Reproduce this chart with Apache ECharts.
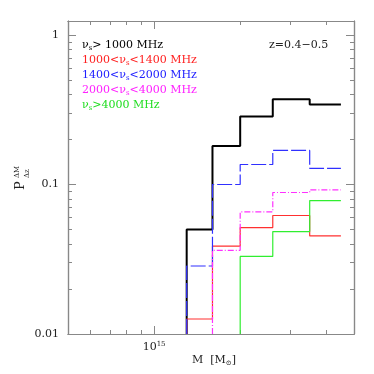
<!DOCTYPE html>
<html>
<head>
<meta charset="utf-8">
<script src="https://cdn.jsdelivr.net/npm/echarts@6/dist/echarts.min.js"></script>
<style>
  html, body { margin: 0; padding: 0; background: #fff; }
  #chart { width: 374px; height: 374px; }
</style>
</head>
<body>
<div id="chart"></div>
<script>
// bin edges in M [Msun]
var massEdges = [1.3e15, 1.6e15, 2.0e15, 2.6e15, 3.5e15, 4.5e15];
// P per bin, null = below the plot
var pAll    = [0.050, 0.181, 0.285, 0.371, 0.343];
var p1000   = [0.0126, 0.0387, 0.0515, 0.062, 0.0453];
var p1400   = [0.0285, 0.100, 0.136, 0.169, 0.128];
var p2000   = [null, 0.0363, 0.0656, 0.0884, 0.092];
var p4000   = [null, null, 0.033, 0.0484, 0.078];

var xMajor = [1e15];
var xMinor = [6e14, 7e14, 8e14, 9e14, 2e15, 3e15, 4e15];
var yMajor = [0.01, 0.1, 1];
var yMinor = [0.02, 0.03, 0.04, 0.05, 0.06, 0.07, 0.08, 0.09,
              0.2, 0.3, 0.4, 0.5, 0.6, 0.7, 0.8, 0.9];

var X_MIN = 5e14, X_MAX = 5e15, Y_MIN = 0.01, Y_MAX = 1.24;
var serif = 'DejaVu Serif';
var frame = '#888';

// histogram outline: rises from the bottom at the first filled bin
function steps(vals) {
  var pts = [];
  for (var i = 0; i < vals.length; i++) {
    if (vals[i] == null) continue;
    if (!pts.length) pts.push([massEdges[i], Y_MIN]);
    pts.push([massEdges[i], vals[i]]);
    pts.push([massEdges[i + 1], vals[i]]);
  }
  return pts;
}

function xAx(pos, ticks, len, labels) {
  return {
    type: 'log', min: X_MIN, max: X_MAX, position: pos,
    axisLine: { show: true, lineStyle: { color: frame, width: 1.2 } },
    axisTick: { show: true, inside: true, length: len, customValues: ticks,
                lineStyle: { color: frame } },
    axisLabel: labels ? {
      show: true, customValues: ticks, margin: 7,
      formatter: function () { return '{a|10}{b|15}'; },
      rich: {
        a: { fontFamily: serif, fontSize: 11, color: '#222' },
        b: { fontFamily: serif, fontSize: 7, color: '#222', padding: [0, 0, 6, 0] }
      }
    } : { show: false },
    splitLine: { show: false }
  };
}

function yAx(pos, ticks, len, labels) {
  return {
    type: 'log', min: Y_MIN, max: Y_MAX, position: pos,
    axisLine: { show: true, lineStyle: { color: frame, width: 1.2 } },
    axisTick: { show: true, inside: true, length: len, customValues: ticks,
                lineStyle: { color: frame } },
    axisLabel: labels ? {
      show: true, customValues: ticks, margin: 9,
      fontFamily: serif, fontSize: 11, color: '#222',
      formatter: function (v) { return v >= 1 ? '1' : (v >= 0.1 ? '0.1' : '0.01'); }
    } : { show: false },
    splitLine: { show: false }
  };
}

function legendText(y, txt, color) {
  var rich = {
    n: { fontFamily: serif, fontSize: 11, color: color },
    s: { fontFamily: serif, fontSize: 7, color: color, padding: [6, 0, 0, 0] }
  };
  return { type: 'text', left: 82, top: y - 7,
           style: { text: txt, rich: rich, fill: color } };
}

var chart = echarts.init(document.getElementById('chart'));
chart.setOption({
  animation: false,
  backgroundColor: '#fff',
  grid: { left: 68, right: 20, top: 21, bottom: 40 },
  xAxis: [
    xAx('bottom', xMajor, 8, true),
    xAx('bottom', xMinor, 4, false),
    xAx('top', xMajor, 8, false),
    xAx('top', xMinor, 4, false)
  ],
  yAxis: [
    yAx('left', yMajor, 8, true),
    yAx('left', yMinor, 4, false),
    yAx('right', yMajor, 8, false),
    yAx('right', yMinor, 4, false)
  ],
  series: [
    { type: 'line', data: steps(pAll), symbol: 'none',
      lineStyle: { color: '#000', width: 2 } },
    { type: 'line', data: steps(p1000), symbol: 'none',
      lineStyle: { color: '#ff3030', width: 1.2 } },
    { type: 'line', data: steps(p1400), symbol: 'none',
      lineStyle: { color: '#3030ff', width: 1.2, type: [15, 3] } },
    { type: 'line', data: steps(p2000), symbol: 'none',
      lineStyle: { color: '#ff30ff', width: 1.2, type: [6, 2, 1, 2] } },
    { type: 'line', data: steps(p4000), symbol: 'none',
      lineStyle: { color: '#30ee30', width: 1.2 } }
  ],
  graphic: [
    legendText(46.7, '{n|ν}{s|s}{n|> 1000 MHz}', '#000'),
    legendText(61.7, '{n|1000<ν}{s|s}{n|<1400 MHz}', '#ff2020'),
    legendText(76.7, '{n|1400<ν}{s|s}{n|<2000 MHz}', '#2020ff'),
    legendText(91.7, '{n|2000<ν}{s|s}{n|<4000 MHz}', '#ff20ff'),
    legendText(106.7, '{n|ν}{s|s}{n|>4000 MHz}', '#20dd20'),
    { type: 'text', left: 269, top: 40,
      style: { text: 'z=0.4−0.5', font: '11px "DejaVu Serif"', fill: '#222' } },
    { type: 'text', left: 192, top: 355,
      style: { text: '{n|M  [M}{s|⊙}{n|]}', fill: '#222',
               rich: { n: { fontFamily: serif, fontSize: 11, color: '#222' },
                       s: { fontFamily: serif, fontSize: 7, color: '#222', padding: [5, 0, 0, 0] } } } },
    { type: 'text', x: 14, y: 190, rotation: Math.PI / 2,
      style: { text: 'P', font: '13px "DejaVu Serif"', fill: '#222' } },
    { type: 'text', x: 14, y: 178, rotation: Math.PI / 2,
      style: { text: 'ΔM', font: '7px "DejaVu Serif"', fill: '#222' } },
    { type: 'text', x: 24, y: 178, rotation: Math.PI / 2,
      style: { text: 'Δz', font: '7px "DejaVu Serif"', fill: '#222' } }
  ]
});
</script>
</body>
</html>
